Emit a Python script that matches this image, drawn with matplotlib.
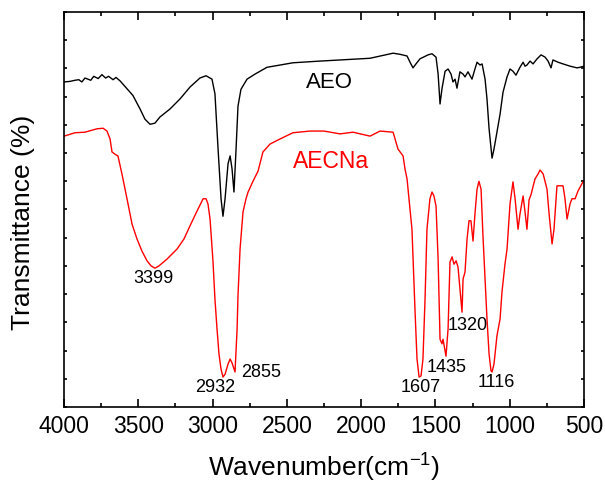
import numpy as np
import matplotlib
matplotlib.use('Agg')
import matplotlib.pyplot as plt
from matplotlib.ticker import MultipleLocator

plt.rcParams['font.family'] = ['Liberation Sans', 'DejaVu Sans']
plt.rcParams['mathtext.fontset'] = 'custom'
plt.rcParams['mathtext.rm'] = 'Liberation Sans'
plt.rcParams['mathtext.default'] = 'regular'

############################################################
# Data (y in arbitrary units)
############################################################

aeo_wn = [4000, 3960, 3926, 3900, 3880, 3859, 3820, 3800, 3770, 3745, 3720, 3700,
          3670, 3650, 3623, 3576, 3536, 3488, 3455,
          3421, 3388, 3354, 3287, 3219, 3152, 3085, 3044, 3004, 2984, 2963, 2943,
          2930, 2916, 2896, 2882, 2869, 2856, 2842, 2829, 2809, 2768, 2714, 2634,
          2546, 2459, 2277, 2142, 1940, 1785, 1738, 1691, 1671, 1651, 1631, 1604,
          1550, 1523, 1496, 1482, 1469, 1456, 1435, 1415, 1395, 1382, 1368, 1355,
          1335, 1314, 1301, 1281, 1254, 1234, 1220, 1200, 1186, 1166, 1153, 1139,
          1119, 1106, 1086, 1065, 1045, 1018, 998, 978, 958, 931, 910, 897, 884,
          863, 843, 816, 789, 762, 742, 722, 709, 675, 641, 594, 547, 527, 500]
aeo_t = [57.6, 57.7, 57.9, 58.0, 57.6, 58.3, 57.9, 58.6, 58.2, 58.9, 58.3, 58.6,
         58.0, 58.4, 57.8, 56.4, 55.2, 52.8, 51.0,
         50.1, 50.3, 51.4, 52.8, 54.6, 56.7, 58.3, 58.7, 58.1, 55.5, 45.7, 36.9,
         33.8, 36.9, 43.1, 44.5, 42.2, 38.1, 45.7, 53.3, 56.3, 58.1, 59.0, 60.2,
         60.6, 61.0, 61.3, 61.5, 61.8, 62.7, 62.5, 62.2, 61.1, 60.1, 60.8, 61.7,
         62.4, 62.6, 62.0, 59.0, 53.7, 56.4, 59.5, 59.9, 59.0, 57.6, 58.1, 56.5,
         59.4, 59.0, 58.5, 59.4, 58.1, 59.9, 61.1, 60.6, 60.8, 58.1, 54.6, 49.3,
         44.1, 45.7, 48.7, 51.9, 55.8, 58.5, 59.9, 59.5, 58.8, 60.2, 61.1, 60.4, 60.6,
         61.3, 60.8, 61.7, 62.4, 62.0, 61.3, 60.1, 61.5, 61.1, 60.8, 60.4, 60.1, 60.2, 60.4]

aecna_wn = [4000, 3926, 3859, 3778, 3737, 3711, 3690, 3677, 3657, 3637, 3610, 3576,
            3542, 3509, 3475, 3441, 3414, 3388, 3361, 3307, 3239, 3192, 3152, 3105,
            3064, 3044, 3031, 3017, 2997, 2984, 2970, 2957, 2943, 2930, 2916, 2896,
            2882, 2869, 2849, 2835, 2829, 2815, 2795, 2775, 2761, 2728, 2694, 2661,
            2613, 2546, 2459, 2344, 2250, 2142, 2055, 1940, 1873, 1785, 1752, 1738, 1718,
            1705, 1691, 1671, 1658, 1637, 1624, 1610, 1597, 1584, 1570, 1557, 1537,
            1523, 1510, 1496, 1482, 1469, 1456, 1449, 1429, 1415, 1402, 1388, 1375,
            1361, 1348, 1335, 1321, 1314, 1301, 1287, 1274, 1261, 1247, 1234, 1220,
            1207, 1193, 1180, 1166, 1153, 1139, 1126, 1119, 1106, 1086, 1065, 1052,
            1032, 1018, 998, 978, 964, 944, 931, 910, 897, 884, 870, 857, 830, 809,
            796, 775, 749, 735, 715, 702, 682, 641, 628, 614, 594, 581, 560, 540,
            507, 500]
aecna_t = [48.0, 48.6, 48.7, 49.3, 49.4, 48.9, 47.5, 45.2, 44.8, 44.5, 41.3, 36.9,
           32.4, 29.8, 27.6, 25.9, 25.0, 24.6, 25.0, 26.2, 28.0, 29.8, 32.1, 34.7,
           36.9, 36.9, 36.0, 33.3, 25.7, 19.1, 13.8, 9.4, 6.7, 5.3, 5.8, 7.6,
           8.5, 7.8, 6.2, 13.8, 19.7, 28.0, 34.6, 36.9, 38.1, 40.0, 41.8, 45.2,
           46.6, 47.5, 48.6, 48.9, 48.9, 48.4, 48.7, 48.0, 48.9, 48.7, 45.7, 45.2, 44.5,
           42.2, 40.4, 35.1, 31.5, 16.8, 8.5, 5.3, 5.5, 8.5, 19.1, 31.5, 36.9,
           38.1, 37.4, 35.6, 26.2, 12.0, 11.2, 12.0, 9.0, 13.8, 25.7, 26.6, 25.3,
           25.9, 24.8, 20.9, 16.8, 22.7, 23.9, 29.8, 33.0, 33.0, 29.4, 34.2, 38.6,
           40.0, 38.6, 30.3, 22.7, 15.6, 9.4, 6.4, 6.2, 7.6, 12.6, 15.6, 20.4,
           25.3, 28.0, 36.0, 39.9, 36.9, 31.5, 34.2, 37.4, 34.6, 31.5, 36.7, 37.6, 40.4, 41.3,
           42.0, 41.3, 38.6, 34.2, 28.9, 31.5, 39.2, 39.2, 36.9, 33.3, 36.0, 36.9, 36.9, 38.3,
           39.9, 40.0]

peak_labels = ['3399', '2932', '2855', '1607', '1435', '1320', '1116']
peak_x = [3401, 2984, 2674, 1597, 1422, 1281, 1092]
peak_y = [22.9, 3.7, 6.2, 3.7, 7.1, 14.7, 4.6]

x_ticks = [4000, 3500, 3000, 2500, 2000, 1500, 1000, 500]


def main():
    fig = plt.figure(figsize=(6.05, 4.85), dpi=100)
    ax = fig.add_axes([0.1058, 0.1588, 0.8595, 0.8144])

    ax.plot(aeo_wn, aeo_t, color='black', lw=1.0)
    ax.plot(aecna_wn, aecna_t, color='red', lw=1.0)

    ax.text(2216, 57.7, 'AEO', color='black', fontsize=16, ha='center', va='center')
    ax.text(2203, 43.6, 'AECNa', color='red', fontsize=16.5, ha='center', va='center')
    for lab, px, py in zip(peak_labels, peak_x, peak_y):
        ax.text(px, py, lab, fontsize=13, ha='center', va='center')

    ax.set_xlim(4000, 500)
    ax.set_ylim(0, 70)
    ax.set_xticks(x_ticks)
    ax.xaxis.set_minor_locator(MultipleLocator(250))
    ax.yaxis.set_major_locator(MultipleLocator(5))
    ax.set_yticklabels([])
    ax.tick_params(axis='x', which='major', direction='in', length=6, width=1.2,
                   top=True, labelsize=16.5, pad=5)
    ax.tick_params(axis='x', which='minor', direction='in', length=3, width=1.2, top=True)
    ax.tick_params(axis='y', which='major', direction='in', length=2.5, width=1.2, right=True)
    for sp in ax.spines.values():
        sp.set_linewidth(1.2)

    ax.set_xlabel('Wavenumber(cm$^{-1}$)', fontsize=19, va='center')
    ax.xaxis.set_label_coords(0.5, -0.152)
    ax.set_ylabel('Transmittance (%)', fontsize=19, va='center')
    ax.yaxis.set_label_coords(-0.079, 0.471)

    fig.savefig('out.png', dpi=100)


if __name__ == '__main__':
    main()
